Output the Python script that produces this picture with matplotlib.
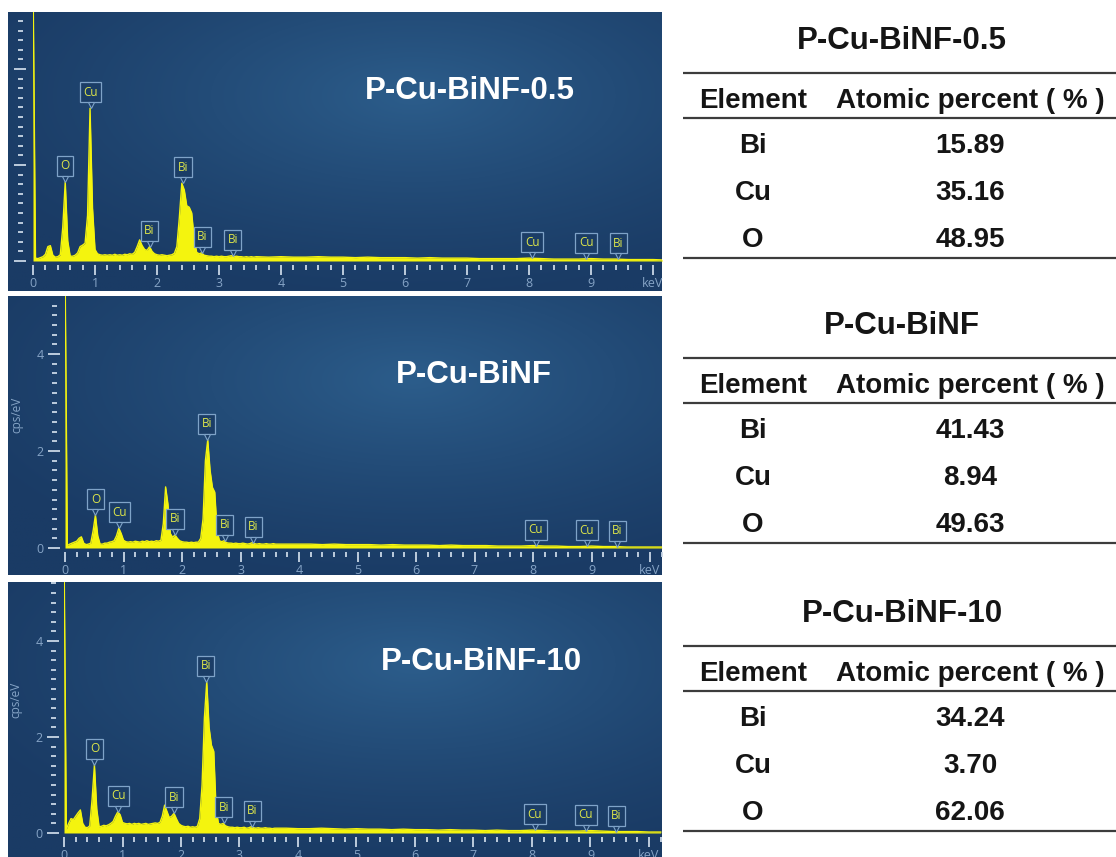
import numpy as np
import matplotlib.pyplot as plt
from matplotlib.ticker import MultipleLocator, FuncFormatter, NullFormatter
from matplotlib.transforms import offset_copy

plt.rcParams['font.family'] = ['Liberation Sans', 'DejaVu Sans']

W, H = 1116, 857

samples = ['P-Cu-BiNF-0.5', 'P-Cu-BiNF', 'P-Cu-BiNF-10']
elements = ['Bi', 'Cu', 'O']
pct_05 = [15.89, 35.16, 48.95]
pct_plain = [41.43, 8.94, 49.63]
pct_10 = [34.24, 3.70, 62.06]

# energy axis (keV): 0.04 keV steps over the peaks, 0.2 keV over the flat tail
energy_lo = np.round(np.arange(0, 3.601, 0.04), 2)
energy_hi = np.round(np.arange(3.8, 10.201, 0.2), 2)

# cps/eV
counts_lo_05 = [
    6.00, 0.06, 0.05, 0.07, 0.09, 0.14, 0.30, 0.32, 0.12, 0.08,
    0.09, 0.13, 0.70, 1.65, 0.42, 0.10, 0.10, 0.12, 0.17, 0.30,
    0.33, 0.37, 0.95, 3.18, 1.10, 0.24, 0.15, 0.13, 0.12, 0.13,
    0.12, 0.13, 0.12, 0.14, 0.12, 0.13, 0.12, 0.14, 0.13, 0.15,
    0.14, 0.18, 0.30, 0.44, 0.32, 0.24, 0.22, 0.30, 0.20, 0.15,
    0.13, 0.12, 0.13, 0.12, 0.11, 0.12, 0.13, 0.16, 0.30, 0.90,
    1.62, 1.48, 1.15, 1.12, 1.00, 0.45, 0.18, 0.15, 0.17, 0.12,
    0.11, 0.10, 0.10, 0.09, 0.10, 0.09, 0.10, 0.09, 0.09, 0.10,
    0.11, 0.09, 0.10, 0.09, 0.09, 0.08, 0.09, 0.08, 0.09, 0.08, 0.09]
counts_hi_05 = [
    0.08, 0.09, 0.08, 0.08, 0.09, 0.08, 0.08, 0.07, 0.08, 0.07,
    0.07, 0.07, 0.06, 0.07, 0.06, 0.06, 0.06, 0.05, 0.05, 0.05,
    0.05, 0.06, 0.05, 0.04, 0.04, 0.04, 0.05, 0.04, 0.04, 0.03,
    0.03, 0.03, 0.02]

counts_lo_plain = [
    6.00, 0.05, 0.08, 0.10, 0.12, 0.14, 0.20, 0.23, 0.10, 0.07,
    0.08, 0.10, 0.35, 0.68, 0.25, 0.08, 0.08, 0.10, 0.10, 0.12,
    0.13, 0.15, 0.25, 0.41, 0.30, 0.16, 0.13, 0.12, 0.13, 0.12,
    0.14, 0.13, 0.12, 0.14, 0.13, 0.15, 0.13, 0.14, 0.13, 0.15,
    0.14, 0.16, 0.50, 1.26, 0.90, 0.30, 0.22, 0.27, 0.20, 0.15,
    0.13, 0.12, 0.12, 0.11, 0.12, 0.11, 0.12, 0.12, 0.20, 0.60,
    1.80, 2.23, 1.60, 1.25, 1.15, 0.35, 0.15, 0.13, 0.15, 0.11,
    0.10, 0.10, 0.09, 0.10, 0.09, 0.09, 0.10, 0.09, 0.08, 0.09,
    0.11, 0.09, 0.08, 0.09, 0.08, 0.08, 0.09, 0.08, 0.08, 0.09, 0.08]
counts_hi_plain = [
    0.08, 0.08, 0.08, 0.07, 0.08, 0.07, 0.07, 0.07, 0.06, 0.07,
    0.06, 0.06, 0.06, 0.05, 0.06, 0.05, 0.05, 0.05, 0.04, 0.04,
    0.04, 0.05, 0.04, 0.04, 0.03, 0.03, 0.04, 0.03, 0.03, 0.02,
    0.02, 0.02, 0.02]

counts_lo_10 = [
    6.00, 0.08, 0.20, 0.30, 0.28, 0.35, 0.42, 0.48, 0.20, 0.12,
    0.11, 0.15, 0.70, 1.42, 0.50, 0.13, 0.14, 0.16, 0.15, 0.17,
    0.20, 0.24, 0.35, 0.44, 0.38, 0.22, 0.20, 0.19, 0.20, 0.18,
    0.20, 0.19, 0.20, 0.18, 0.19, 0.20, 0.18, 0.19, 0.20, 0.21,
    0.20, 0.22, 0.35, 0.58, 0.45, 0.32, 0.35, 0.41, 0.30, 0.20,
    0.16, 0.14, 0.13, 0.14, 0.12, 0.13, 0.12, 0.14, 0.30, 1.00,
    2.40, 3.15, 2.20, 1.83, 1.70, 0.50, 0.20, 0.18, 0.20, 0.15,
    0.13, 0.12, 0.12, 0.11, 0.12, 0.11, 0.11, 0.12, 0.10, 0.11,
    0.13, 0.11, 0.10, 0.11, 0.10, 0.10, 0.11, 0.10, 0.10, 0.09, 0.10]
counts_hi_10 = [
    0.10, 0.09, 0.09, 0.10, 0.09, 0.08, 0.09, 0.08, 0.08, 0.07,
    0.08, 0.07, 0.07, 0.06, 0.07, 0.06, 0.06, 0.05, 0.06, 0.05,
    0.05, 0.06, 0.05, 0.04, 0.04, 0.04, 0.05, 0.04, 0.03, 0.03,
    0.03, 0.02, 0.02]

# element markers on the spectra
tag_names = ['O', 'Cu', 'Bi', 'Bi', 'Bi', 'Bi', 'Cu', 'Cu', 'Bi']
tag_kev = [0.52, 0.93, 1.88, 2.42, 2.73, 3.22, 8.05, 8.92, 9.44]

YELLOW = '#f4f40e'
TICK = '#c9d7e6'
LABEL = '#86a4c6'
TAG_TEXT = '#dde64a'
TAG_FACE = '#1b3d66'
TAG_EDGE = '#7fa3c8'
DARK = np.array([0x1a, 0x3b, 0x65]) / 255
GLOW = np.array([0x2c, 0x5d, 0x8b]) / 255
SANS = ['Open Sans', 'DejaVu Sans']


def rect(x0, y0, x1, y1):
    return [x0 / W, 1 - y1 / H, (x1 - x0) / W, (y1 - y0) / H]


def draw_background(ax):
    yy, xx = np.mgrid[0:1:200j, 0:1:400j]
    d = np.sqrt(((xx - 0.62) / 0.75) ** 2 + ((yy - 0.3) / 0.75) ** 2)
    t = np.clip(1 - d, 0, 1) ** 1.3
    img = DARK + (GLOW - DARK) * t[..., None]
    ax.imshow(img, extent=[0, 1, 0, 1], aspect='auto', origin='upper')
    ax.set_axis_off()


def draw_spectrum(ax, energy, counts, x_right, y_top, y_offset, ylabels):
    ax.set_facecolor('none')
    ax.fill_between(energy, 0, counts, color=YELLOW, lw=0)
    ax.plot(energy, counts, color=YELLOW, lw=1.0)
    ax.set_xlim(0, x_right)
    ax.set_ylim(0, y_top)
    for s in ax.spines.values():
        s.set_visible(False)
    ax.spines['bottom'].set_position(('outward', 3))
    ax.spines['left'].set_position(('outward', y_offset * 0.72))
    ax.xaxis.set_major_locator(MultipleLocator(1))
    ax.xaxis.set_minor_locator(MultipleLocator(0.2))
    ax.yaxis.set_major_locator(MultipleLocator(2))
    ax.yaxis.set_minor_locator(MultipleLocator(0.2))
    ax.xaxis.set_major_formatter(
        FuncFormatter(lambda v, p: 'keV' if round(v) == 10 else f'{v:.0f}'))
    ax.tick_params(axis='x', which='major', direction='out', length=7, width=1.3,
                   color=TICK, labelcolor=LABEL, labelsize=9, pad=1.5)
    ax.tick_params(axis='x', which='minor', direction='out', length=3.5, width=1.3,
                   color=TICK)
    ax.tick_params(axis='y', which='major', direction='inout', length=8.5, width=1.3,
                   color=TICK, labelcolor=LABEL, labelsize=9, pad=3)
    ax.tick_params(axis='y', which='minor', direction='inout', length=3.6, width=1.3,
                   color=TICK)
    for lab in ax.get_xticklabels() + ax.get_yticklabels():
        lab.set_family(SANS)
    if ylabels:
        ax.yaxis.set_major_formatter(FuncFormatter(lambda v, p: f'{v:.0f}'))
        ax.set_ylabel('cps/eV', color=LABEL, fontsize=8.5, family=SANS)
        ax.yaxis.set_label_coords(-0.07, 0.53)
    else:
        ax.yaxis.set_major_formatter(NullFormatter())

    lift = offset_copy(ax.transData, fig=ax.figure, y=2.2, units='points')
    for name, e in zip(tag_names, tag_kev):
        near = [c for x, c in zip(energy, counts) if abs(x - e) <= 0.03]
        tip = max(near) if near else float(np.interp(e, energy, counts))
        ax.annotate(name, xy=(e, tip), xytext=(0, 6.8), textcoords='offset points',
                    ha='center', va='bottom', fontsize=8.5, color=TAG_TEXT, family=SANS,
                    bbox=dict(boxstyle='square,pad=0.3', fc=TAG_FACE, ec=TAG_EDGE, lw=0.9),
                    zorder=6, annotation_clip=False)
        ax.plot([e], [tip], transform=lift, marker='v', ms=5, mfc=TAG_FACE,
                mec=TAG_EDGE, mew=0.8, zorder=7, clip_on=False)


fig = plt.figure(figsize=(W / 100, H / 100), dpi=100)
fig.patch.set_facecolor('white')

backgrounds = [(8, 12, 662, 291), (8, 296, 662, 575), (8, 582, 662, 857)]
plot_boxes = [(33, 12, 662, 261), (65, 296, 662, 548), (64, 582, 662, 833)]
kev_per_px = [1 / 62, 1 / 58.5, 1 / 58.5]
cps_per_px = [1 / 48, 1 / 48.5, 1 / 48]
tick_offsets = [13, 11, 11]
spectra = [(counts_lo_05, counts_hi_05), (counts_lo_plain, counts_hi_plain),
           (counts_lo_10, counts_hi_10)]

energy = np.concatenate([energy_lo, energy_hi])
for i in range(3):
    bg = fig.add_axes(rect(*backgrounds[i]))
    draw_background(bg)
for i in range(3):
    x0, y0, x1, y1 = plot_boxes[i]
    ax = fig.add_axes(rect(*plot_boxes[i]))
    counts = list(spectra[i][0]) + list(spectra[i][1])
    draw_spectrum(ax, energy, counts, (x1 - x0) * kev_per_px[i], (y1 - y0) * cps_per_px[i],
                  tick_offsets[i], ylabels=(i > 0))

# overlay in pixel coordinates for the titles and the composition tables
ov = fig.add_axes([0, 0, 1, 1])
ov.set_xlim(0, W)
ov.set_ylim(H, 0)
ov.set_axis_off()
ov.patch.set_alpha(0)

title_pos = [(470, 99), (474, 383), (481, 670)]
for name, (tx, ty) in zip(samples, title_pos):
    ov.text(tx, ty, name, ha='center', va='baseline', fontsize=22.5,
            weight='bold', color='white')

table_tops = [73, 358, 646]
for name, pct, top in zip(samples, [pct_05, pct_plain, pct_10], table_tops):
    ov.text(902, top - 35 + 11, name, ha='center', va='baseline', fontsize=22.5,
            weight='bold', color='#151515')
    for y in (top, top + 45, top + 185):
        ov.plot([683, W], [y, y], color='#3c3c3c', lw=1.6, solid_capstyle='butt')
    ov.text(753, top + 25 + 10, 'Element', ha='center', va='baseline', fontsize=20,
            weight='bold', color='#151515')
    ov.text(970, top + 25 + 10, 'Atomic percent ( % )', ha='center', va='baseline',
            fontsize=20, weight='bold', color='#151515')
    for k, (el, v) in enumerate(zip(elements, pct)):
        yb = top + 70 + 47 * k + 10
        ov.text(753, yb, el, ha='center', va='baseline', fontsize=20,
                weight='bold', color='#151515')
        ov.text(970, yb, f'{v:.2f}', ha='center', va='baseline', fontsize=20,
                weight='bold', color='#151515')

fig.savefig('out.png', dpi=100)
